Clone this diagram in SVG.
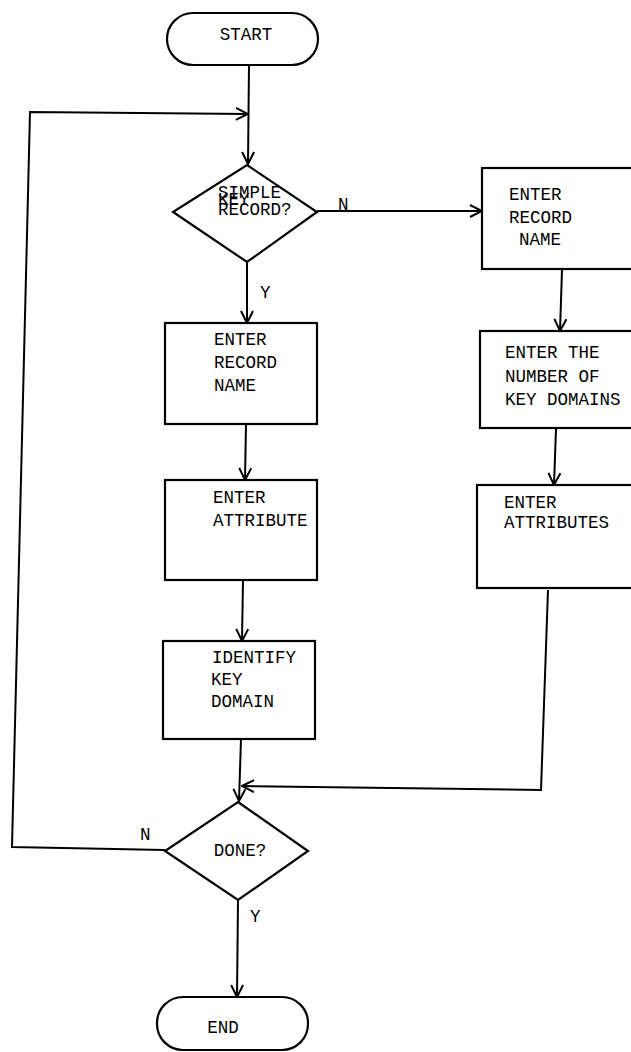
<svg xmlns="http://www.w3.org/2000/svg" width="631" height="1052" viewBox="0 0 631 1052">
<style>
  .shape { fill: #fff; stroke: #000; stroke-width: 2.2; }
  .conn { fill: none; stroke: #000; stroke-width: 2; }
  text { font-family: "Liberation Mono", "Courier New", monospace; font-size: 17.5px; fill: #000; }
  .c { text-anchor: middle; }
</style>
<defs>
  <marker id="arr" markerUnits="userSpaceOnUse" viewBox="0 0 14 14" refX="13" refY="7" markerWidth="14" markerHeight="14" orient="auto">
    <path d="M1,1 L13,7 L1,13" fill="none" stroke="#000" stroke-width="2"/>
  </marker>
</defs>
<rect width="631" height="1052" fill="#fff"/>
<g id="connectors">
  <path class="conn" d="M249,65 L248,164" marker-end="url(#arr)"/>
  <path class="conn" d="M165,850 L12,847 L30,112 L248,114" marker-end="url(#arr)"/>
  <path class="conn" d="M317,211 L482,211" marker-end="url(#arr)"/>
  <path class="conn" d="M247,262 L247,323" marker-end="url(#arr)"/>
  <path class="conn" d="M246,424 L245,480" marker-end="url(#arr)"/>
  <path class="conn" d="M243,580 L242,641" marker-end="url(#arr)"/>
  <path class="conn" d="M241,739 L239,801" marker-end="url(#arr)"/>
  <path class="conn" d="M562,270 L560,331" marker-end="url(#arr)"/>
  <path class="conn" d="M556,429 L554,485" marker-end="url(#arr)"/>
  <path class="conn" d="M548,590 L541,790 L242,786" marker-end="url(#arr)"/>
  <path class="conn" d="M238,900 L237,997" marker-end="url(#arr)"/>
  <text x="338" y="210">N</text>
  <text x="260" y="298">Y</text>
  <text x="140" y="840">N</text>
  <text x="250" y="922">Y</text>
</g>
<g id="start">
  <rect class="shape" x="167" y="13" width="151" height="52" rx="26" ry="26"/>
  <text x="246" y="40" class="c">START</text>
</g>
<g id="simple-key">
  <polygon class="shape" points="247,165 317,212 247,262 173,212"/>
  <text x="218" y="198">SIMPLE</text>
  <text x="218" y="205">KEY</text>
  <text x="218" y="215">RECORD?</text>
</g>
<g id="enter-record-name-left">
  <rect class="shape" x="165" y="323" width="152" height="101"/>
  <text x="214" y="345">ENTER</text>
  <text x="214" y="368">RECORD</text>
  <text x="214" y="391">NAME</text>
</g>
<g id="enter-attribute">
  <rect class="shape" x="165" y="480" width="152" height="100"/>
  <text x="213" y="503">ENTER</text>
  <text x="213" y="526">ATTRIBUTE</text>
</g>
<g id="identify-key-domain">
  <rect class="shape" x="163" y="641" width="152" height="98"/>
  <text x="212" y="663">IDENTIFY</text>
  <text x="211" y="685">KEY</text>
  <text x="211" y="707">DOMAIN</text>
</g>
<g id="done">
  <polygon class="shape" points="238,802 308,851 238,900 165,851"/>
  <text x="240" y="856" class="c">DONE?</text>
</g>
<g id="end">
  <rect class="shape" x="157" y="997" width="151" height="53" rx="26" ry="26"/>
  <text x="223" y="1033" class="c">END</text>
</g>
<g id="enter-record-name-right">
  <rect class="shape" x="482" y="168" width="160" height="101"/>
  <text x="509" y="200">ENTER</text>
  <text x="509" y="223">RECORD</text>
  <text x="519" y="245">NAME</text>
</g>
<g id="enter-number-key-domains">
  <rect class="shape" x="480" y="331" width="160" height="97"/>
  <text x="505" y="358">ENTER THE</text>
  <text x="505" y="382">NUMBER OF</text>
  <text x="505" y="405">KEY DOMAINS</text>
</g>
<g id="enter-attributes">
  <rect class="shape" x="477" y="485" width="163" height="103"/>
  <text x="504" y="508">ENTER</text>
  <text x="504" y="528">ATTRIBUTES</text>
</g>
</svg>
